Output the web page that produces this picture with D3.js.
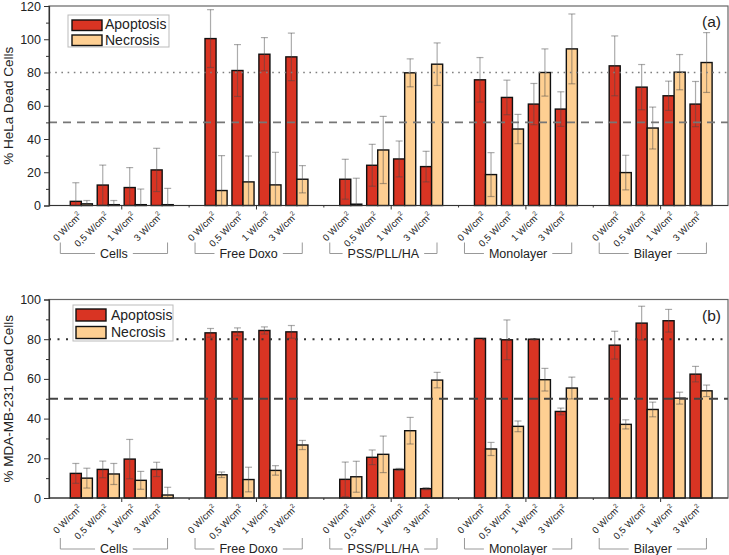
<!DOCTYPE html>
<html><head><meta charset="utf-8">
<script src="https://cdn.jsdelivr.net/npm/d3@7"></script>
<style>body{margin:0;background:#fff}svg{display:block;font-family:"Liberation Sans",Arial,sans-serif}</style>
</head><body>
<svg id="c" width="729" height="555"></svg>
<script>
const groups = ["Cells","Free Doxo","PSS/PLL/HA","Monolayer","Bilayer"];
const powers = ["0 W/cm","0,5 W/cm","1 W/cm","3 W/cm"];
const seriesNames = ["Apoptosis","Necrosis"];

const helaApoptosis    = [2.5,12.3,10.8,21.4, 100.4,81.2,91,89.4, 15.8,24.2,28,23.4, 75.6,65,61,58, 84,71.2,66,61];
const helaApoptosisErr = [11.2,12,12,13, 17.4,15.6,10,14.3, 12,12.6,10.8,9.2, 13.4,10.4,12.4,10.4, 18,13.6,8.8,13.6];
const helaNecrosis     = [1,0.5,0.5,0.5, 9,14.2,12.4,15.8, 0.8,33.4,79.8,85, 18.6,46,80,94.2, 19.8,46.6,80.2,86];
const helaNecrosisErr  = [2,2.5,9.4,9.8, 21,15.6,19.6,8.2, 15.6,20.2,8.4,12.8, 13.2,8.8,14.2,21, 10.4,12.6,10.6,18];

const mdaApoptosis     = [12.4,14.4,19.6,14.4, 83.2,83.7,84.4,83.7, 9.4,20.5,14.4,4.7, 80.4,79.7,80,43.6, 77,88.1,89.3,62.4];
const mdaApoptosisErr  = [5,4.2,9.9,3.6, 2.2,2,1.8,3.2, 8.7,3.7,0.5,0.5, 0,10,0.3,1.7, 7,8.5,5.7,3.9];
const mdaNecrosis      = [10,12.1,8.9,1.5, 11.7,9.3,13.9,26.7, 10.7,22,33.9,59.4, 24.7,36.1,59.6,55.4, 37.1,44.6,50.3,54];
const mdaNecrosisErr   = [5,5.3,4.5,3.9, 1.4,6.2,2.4,2.3, 7.8,9.2,6.7,3.9, 3.3,2.7,5.7,5.5, 2.3,3.7,3,2.9];

const refLines = [80, 50];
const colors = ["#d93423", "#fecf92"];

const svg = d3.select("#c");
const x = d3.scaleLinear().domain([-1.2, 24]).range([49, 728]);
const slotW = x(1) - x(0);
const barW = slotW * 0.41;

const panels = [
  {ylab:"% HeLa Dead Cells", tag:"(a)", ymax:120, range:[205.5, 6], data:[helaApoptosis, helaNecrosis], err:[helaApoptosisErr, helaNecrosisErr],
   legend:{bx:68, by:15, bw:101, bh:32, sx:72, sy:[20,35], sh:10.5, tx:105, ty:[29,45]}, dotCol:"#808080", dashCol:"#777", dotDash:"1.6,4.6", dashDash:"8,6", dotW:1.6,
   br:{v0:37, v1:48, tb:52.5}, tagY:27},
  {ylab:"% MDA-MB-231 Dead Cells", tag:"(b)", ymax:100, range:[498, 299.5], data:[mdaApoptosis, mdaNecrosis], err:[mdaApoptosisErr, mdaNecrosisErr],
   legend:{bx:73, by:305, bw:100, bh:36, sx:76, sy:[309,326.5], sh:12, tx:111, ty:[320,336.5]}, dotCol:"#333", dashCol:"#444", dotDash:"2,6.5", dashDash:"9,6", dotW:2,
   br:{v0:40, v1:51, tb:55}, tagY:321}
];

panels.forEach(P => {
  const y = d3.scaleLinear().domain([0, P.ymax]).range(P.range);
  const g = svg.append("g");
  const y0 = y(0);

  // frame
  g.append("rect").attr("x", x.range()[0]).attr("y", y(P.ymax)).attr("width", x.range()[1]-x.range()[0]).attr("height", y0 - y(P.ymax))
    .attr("fill","none").attr("stroke","#666").attr("stroke-width",1.2);

  // bars
  const slots = [];
  groups.forEach((gr, gi) => powers.forEach((pw, pi) => slots.push({gi, pi, s: gi*5 + pi, idx: gi*4 + pi})));
  seriesNames.forEach((sn, si) => {
    g.append("g").selectAll("rect").data(slots).join("rect")
      .attr("x", d => x(d.s) - barW + si*barW)
      .attr("y", d => y(P.data[si][d.idx]))
      .attr("width", barW)
      .attr("height", d => y0 - y(P.data[si][d.idx]))
      .attr("fill", colors[si]).attr("stroke","#111").attr("stroke-width",1.4);
  });
  // error bars
  seriesNames.forEach((sn, si) => {
    const eg = g.append("g").attr("stroke","rgba(70,70,70,0.45)").attr("stroke-width",1.2);
    slots.forEach(d => {
      const v = P.data[si][d.idx], e = P.err[si][d.idx];
      if (e <= 0) return;
      const cx = x(d.s) - barW/2 + si*barW;
      const top = y(v + e), bot = y(Math.max(0, v - e));
      eg.append("line").attr("x1",cx).attr("x2",cx).attr("y1",top).attr("y2",bot);
      eg.append("line").attr("x1",cx-3.5).attr("x2",cx+3.5).attr("y1",top).attr("y2",top);
      if (v - e > 0) eg.append("line").attr("x1",cx-3.5).attr("x2",cx+3.5).attr("y1",bot).attr("y2",bot);
    });
  });

  // reference lines
  g.append("line").attr("x1",x.range()[0]).attr("x2",x.range()[1]).attr("y1",y(refLines[0])).attr("y2",y(refLines[0]))
    .attr("stroke",P.dotCol).attr("stroke-width",P.dotW).attr("stroke-dasharray",P.dotDash);
  g.append("line").attr("x1",x.range()[0]).attr("x2",x.range()[1]).attr("y1",y(refLines[1])).attr("y2",y(refLines[1]))
    .attr("stroke",P.dashCol).attr("stroke-width",1.8).attr("stroke-dasharray",P.dashDash);

  // y axis
  const ya = d3.axisLeft(y).tickValues(d3.range(0, P.ymax+1, 20)).tickSize(5).tickPadding(3);
  const yag = g.append("g").attr("transform",`translate(${x.range()[0]},0)`).call(ya);
  yag.select(".domain").attr("stroke","#333").attr("stroke-width",1.2);
  yag.selectAll(".tick line").attr("stroke","#333");
  yag.selectAll("text").attr("font-size",12.5).attr("fill","#222").attr("font-family","Liberation Sans, Arial, sans-serif");
  const yminor = d3.axisLeft(y).tickValues(d3.range(10, P.ymax, 20)).tickSize(3).tickFormat("");
  const ymg = g.append("g").attr("transform",`translate(${x.range()[0]},0)`).call(yminor);
  ymg.select(".domain").remove();
  ymg.selectAll(".tick line").attr("stroke","#333");

  // x axis line and ticks
  g.append("line").attr("x1",x.range()[0]).attr("x2",x.range()[1]).attr("y1",y0).attr("y2",y0).attr("stroke","#333").attr("stroke-width",1.2);
  const majorT = groups.map((d,i)=>i*5+1.5), minorT = groups.slice(0,4).map((d,i)=>i*5+4);
  g.selectAll(".mt").data(majorT).join("line").attr("x1",d=>x(d)).attr("x2",d=>x(d)).attr("y1",y0).attr("y2",y0+4).attr("stroke","#333");
  g.selectAll(".nt").data(minorT).join("line").attr("x1",d=>x(d)).attr("x2",d=>x(d)).attr("y1",y0).attr("y2",y0+2).attr("stroke","#333");

  // x tick labels
  slots.forEach(d => {
    const t = g.append("text").attr("transform",`translate(${x(d.s)+1},${y0+11}) rotate(-45)`)
      .attr("text-anchor","end").attr("font-size",9.5).attr("fill","#222");
    t.append("tspan").text(powers[d.pi]);
    t.append("tspan").attr("dy",-4).attr("font-size",6.5).text("2");
  });

  // group brackets
  groups.forEach((gr, gi) => {
    const xl = x(gi*5 - 0.78), xr = x(gi*5 + 3.2), cx = (xl + xr)/2;
    const t = g.append("text").attr("x",cx).attr("y",y0+P.br.tb).attr("text-anchor","middle").attr("font-size",12.5).attr("fill","#222").text(gr);
    const tw = t.node().getComputedTextLength();
    const hy = y0 + P.br.v1;
    g.append("path").attr("d",`M${xl},${y0+P.br.v0}V${hy}H${cx-tw/2-5}M${cx+tw/2+5},${hy}H${xr}V${y0+P.br.v0}`)
      .attr("fill","none").attr("stroke","#999").attr("stroke-width",1);
  });

  // y label
  const ymid = (P.range[0]+P.range[1])/2;
  g.append("text").attr("transform",`translate(13,${ymid}) rotate(-90)`).attr("text-anchor","middle")
    .attr("font-size",13.5).attr("fill","#222").text(P.ylab);

  // tag
  g.append("text").attr("x",721).attr("y",P.tagY).attr("text-anchor","end").attr("font-size",15.5).attr("fill","#222").text(P.tag);

  // legend
  const L = P.legend;
  g.append("rect").attr("x",L.bx).attr("y",L.by).attr("width",L.bw).attr("height",L.bh).attr("fill","#fff").attr("stroke","#bbb").attr("stroke-width",1);
  seriesNames.forEach((sn, si) => {
    g.append("rect").attr("x",L.sx).attr("y",L.sy[si]).attr("width",30).attr("height",L.sh)
      .attr("fill",colors[si]).attr("stroke","#111").attr("stroke-width",1.4);
    g.append("text").attr("x",L.tx).attr("y",L.ty[si]).attr("font-size",14).attr("fill","#222").text(sn);
  });
});
</script>
</body></html>
